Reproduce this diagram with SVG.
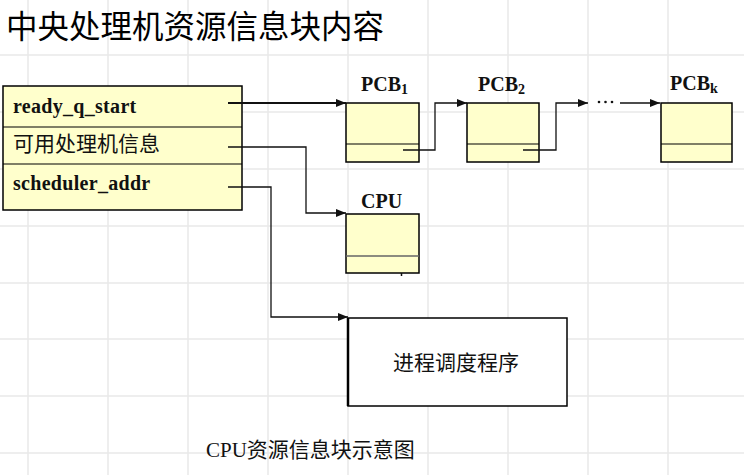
<svg xmlns="http://www.w3.org/2000/svg" width="744" height="475" viewBox="0 0 744 475">
<style>
.grid line{stroke:#e8e8e8;stroke-width:1.5}
.box{fill:#ffffcc;stroke:#000;stroke-width:1.5}
.div{stroke:#000;stroke-width:1.2}
.lbl{font-family:"Liberation Serif","Noto Sans CJK SC",serif;font-weight:bold;font-size:20px;fill:#111}
.zh{font-family:"Liberation Serif","Noto Sans CJK SC",serif;font-size:21px;fill:#111}
.conn{fill:none;stroke:#111;stroke-width:1.3}
</style>
<defs>
<marker id="ah" viewBox="0 0 10 8" refX="10" refY="4" markerWidth="10" markerHeight="8" markerUnits="userSpaceOnUse" orient="auto">
<path d="M0,0 L10,4 L0,8 Z" fill="#111"/>
</marker>
</defs>
<rect width="744" height="475" fill="#fff"/>
<g class="grid">
<line x1="28" y1="0" x2="28" y2="475"/><line x1="108" y1="0" x2="108" y2="475"/><line x1="188" y1="0" x2="188" y2="475"/><line x1="268" y1="0" x2="268" y2="475"/><line x1="348" y1="0" x2="348" y2="475"/><line x1="428" y1="0" x2="428" y2="475"/><line x1="508" y1="0" x2="508" y2="475"/><line x1="588" y1="0" x2="588" y2="475"/><line x1="668" y1="0" x2="668" y2="475"/>
<line x1="0" y1="55" x2="744" y2="55"/><line x1="0" y1="112" x2="744" y2="112"/><line x1="0" y1="169" x2="744" y2="169"/><line x1="0" y1="226" x2="744" y2="226"/><line x1="0" y1="283" x2="744" y2="283"/><line x1="0" y1="339" x2="744" y2="339"/><line x1="0" y1="396" x2="744" y2="396"/><line x1="0" y1="453" x2="744" y2="453"/>
</g>
<text x="6" y="38" font-family="Liberation Serif,'Noto Sans CJK SC',serif" font-size="31.5" fill="#000">中央处理机资源信息块内容</text>
<g id="resource-block">
<rect class="box" x="3" y="86" width="239" height="124"/>
<line class="div" x1="3" y1="127" x2="242" y2="127"/>
<line class="div" x1="3" y1="164" x2="242" y2="164"/>
<text class="lbl" x="13" y="113" font-size="21" letter-spacing="0.3">ready_q_start</text>
<text class="zh" x="13" y="151" font-size="22">可用处理机信息</text>
<text class="lbl" x="13" y="190" font-size="21" letter-spacing="0.3">scheduler_addr</text>
</g>
<g id="pcb1">
<text class="lbl" x="361" y="91">PCB<tspan font-size="14" dy="3">1</tspan></text>
<rect class="box" x="346" y="103" width="73" height="59"/>
<line class="div" x1="346" y1="144" x2="419" y2="144"/>
</g>
<g id="pcb2">
<text class="lbl" x="478" y="91">PCB<tspan font-size="14" dy="3">2</tspan></text>
<rect class="box" x="467" y="103" width="72" height="59"/>
<line class="div" x1="467" y1="144" x2="539" y2="144"/>
</g>
<g id="pcbk">
<text class="lbl" x="670" y="90">PCB<tspan font-size="14" dy="3">k</tspan></text>
<rect class="box" x="661" y="103" width="71" height="59"/>
<line class="div" x1="661" y1="144" x2="732" y2="144"/>
</g>
<g id="dots">
<circle cx="599" cy="102" r="1.3" fill="#111"/><circle cx="605.5" cy="102" r="1.3" fill="#111"/><circle cx="612" cy="102" r="1.3" fill="#111"/>
</g>
<g id="cpu">
<text class="lbl" x="361" y="208">CPU</text>
<rect class="box" x="346" y="214" width="73" height="59"/>
<line x1="346" y1="256" x2="419" y2="256" stroke="#666" stroke-width="1.3"/>
<line x1="401.5" y1="273" x2="401.5" y2="276" stroke="#111" stroke-width="1.5"/>
</g>
<g id="scheduler">
<rect x="348" y="318" width="219" height="88" fill="#fff" stroke="#000" stroke-width="1.5"/>
<line x1="348" y1="318" x2="348" y2="406" stroke="#000" stroke-width="2.5"/>
<text x="456" y="370" text-anchor="middle" font-family="'Noto Sans CJK SC',sans-serif" font-size="21" fill="#111">进程调度程序</text>
</g>
<g id="connectors">
<line x1="228" y1="103" x2="346" y2="103" stroke="#111" stroke-width="2" marker-end="url(#ah)"/>
<polyline class="conn" points="403,150 435,150 435,103 467,103" marker-end="url(#ah)"/>
<polyline class="conn" points="523,150 556,150 556,103 588,103" marker-end="url(#ah)"/>
<line class="conn" x1="620" y1="103" x2="660" y2="103" marker-end="url(#ah)"/>
<polyline class="conn" points="228,147 306,147 306,213 346,213" marker-end="url(#ah)"/>
<polyline class="conn" points="228,187 271,187 271,317 348,317" marker-end="url(#ah)"/>
</g>
<text x="206" y="457" font-family="'Liberation Serif','Noto Sans CJK SC',serif" font-size="21" fill="#111">CPU资源信息块示意图</text>
</svg>
